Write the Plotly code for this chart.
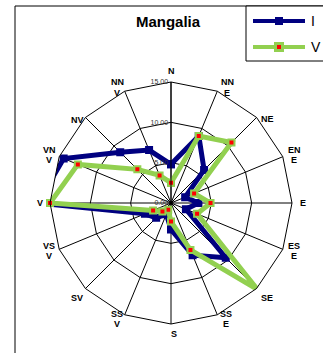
import plotly.graph_objects as go

# Wind directions (Romanian notation) and their two-line labels
directions = ["N", "NNE", "NE", "ENE", "E", "ESE", "SE", "SSE",
              "S", "SSV", "SV", "VSV", "V", "VNV", "NV", "NNV"]
tick_labels = ["N", "NN<br>E", "NE", "EN<br>E", "E", "ES<br>E", "SE", "SS<br>E",
               "S", "SS<br>V", "SV", "VS<br>V", "V", "VN<br>V", "NV", "NN<br>V"]

# Frequency per direction for the two seasons
series_i = [4.8, 9.0, 5.8, 1.9, 3.4, 2.0, 9.6, 7.0,
            3.3, 1.5, 2.6, 3.5, 16.5, 14.4, 8.9, 7.1]
series_v = [2.5, 9.0, 10.6, 3.1, 4.9, 3.5, 15.2, 6.3,
            2.3, 0.9, 1.5, 2.4, 15.0, 12.5, 5.9, 3.7]

radial_ticks = [0, 5, 10, 15]

W, H = 323, 353
FONT = "Liberation Sans, Arial, sans-serif"
NAVY = "#000080"
GREEN = "#92D050"
RED = "#FF0000"


def closed(vals):
    return list(vals) + [vals[0]]


fig = go.Figure()
fig.add_trace(go.Scatterpolar(
    r=closed(series_i), theta=closed(directions), name="I",
    mode="lines+markers",
    line=dict(color=NAVY, width=5),
    marker=dict(symbol="square", size=8, color=NAVY),
    cliponaxis=True, showlegend=False,
))
fig.add_trace(go.Scatterpolar(
    r=closed(series_v), theta=closed(directions), name="V",
    mode="lines+markers",
    line=dict(color=GREEN, width=5),
    marker=dict(symbol="square", size=6, color=RED,
                line=dict(color=GREEN, width=2)),
    cliponaxis=False, showlegend=False,
))

cx, cy, rad = 171, 203, 121
fig.update_layout(
    width=W, height=H,
    margin=dict(l=0, r=0, t=0, b=0),
    paper_bgcolor="white",
    font=dict(family=FONT, color="black"),
    title=dict(text="<b>Mangalia</b>", x=168 / W, y=1 - 22 / H,
               xanchor="center", yanchor="middle",
               font=dict(size=15, family=FONT, color="black")),
    polar=dict(
        domain=dict(x=[(cx - rad) / W, (cx + rad) / W],
                    y=[1 - (cy + rad) / H, 1 - (cy - rad) / H]),
        bgcolor="white",
        gridshape="linear",
        angularaxis=dict(
            direction="clockwise", rotation=90,
            categoryorder="array", categoryarray=directions,
            showticklabels=False,
            showline=True, linecolor="black", linewidth=1,
            gridcolor="black", gridwidth=1, ticks="",
        ),
        radialaxis=dict(
            range=[0, 15], angle=90, tickangle=90,
            tickmode="array", tickvals=radial_ticks,
            tickformat=".2f",
            tickfont=dict(size=7, family=FONT, color="#333333"),
            side="counterclockwise",
            showline=True, linecolor="black", linewidth=1,
            gridcolor="black", gridwidth=1, ticks="",
        ),
    ),
)

# Where each direction label block sits (pixel centre of its first line)
label_anchor = {
    "N": (171, 71), "NNE": (227, 82), "NE": (267, 119.5), "ENE": (294, 149.5),
    "E": (303, 203), "ESE": (294, 245.5), "SE": (267, 297.5), "SSE": (226, 313.5),
    "S": (174, 333.5), "SSV": (117, 313.5), "SV": (77, 297.5), "VSV": (49, 245.5),
    "V": (40, 203), "VNV": (49, 149.5), "NV": (77, 120), "NNV": (117, 82),
}
LINE_STEP = 10.8

annotations = []
for d, lab in zip(directions, tick_labels):
    x0, y0 = label_anchor[d]
    for k, part in enumerate(lab.split("<br>")):
        annotations.append(dict(
            text=f"<b>{part}</b>", xref="paper", yref="paper",
            x=x0 / W, y=1 - (y0 + k * LINE_STEP) / H,
            xanchor="center", yanchor="middle", showarrow=False,
            font=dict(size=9, family=FONT, color="black")))

# Chart frame (left and top edges) and legend box
shapes = [
    dict(type="line", xref="paper", yref="paper",
         x0=15 / W, x1=15 / W, y0=0, y1=1 - 6 / H,
         line=dict(color="black", width=1)),
    dict(type="line", xref="paper", yref="paper",
         x0=15 / W, x1=1, y0=1 - 6 / H, y1=1 - 6 / H,
         line=dict(color="black", width=1)),
    dict(type="rect", xref="paper", yref="paper",
         x0=246 / W, x1=1.05, y0=1 - 61 / H, y1=1 - 6 / H,
         line=dict(color="black", width=1), fillcolor="white"),
]

# Legend entries drawn as line samples with a marker and a label
legend_rows = [("I", 21, NAVY, NAVY, 8), ("V", 47, GREEN, RED, 6)]
for name, y, lc, mc, ms in legend_rows:
    yp = 1 - y / H
    shapes.append(dict(type="line", xref="paper", yref="paper",
                       x0=253 / W, x1=305 / W, y0=yp, y1=yp,
                       line=dict(color=lc, width=4)))
    half = (ms + (4 if name == "V" else 0)) / 2
    if name == "V":
        shapes.append(dict(type="rect", xref="paper", yref="paper",
                           x0=(279 - half) / W, x1=(279 + half) / W,
                           y0=yp - half / H, y1=yp + half / H,
                           line=dict(width=0), fillcolor=GREEN))
        half = ms / 2 - 1
    shapes.append(dict(type="rect", xref="paper", yref="paper",
                       x0=(279 - half) / W, x1=(279 + half) / W,
                       y0=yp - half / H, y1=yp + half / H,
                       line=dict(width=0), fillcolor=mc))
    annotations.append(dict(text=name, xref="paper", yref="paper",
                            x=309 / W, y=yp, xanchor="left", yanchor="middle",
                            showarrow=False,
                            font=dict(size=14, family=FONT, color="black")))

fig.update_layout(shapes=shapes, annotations=annotations)
fig.write_html("out.html")
